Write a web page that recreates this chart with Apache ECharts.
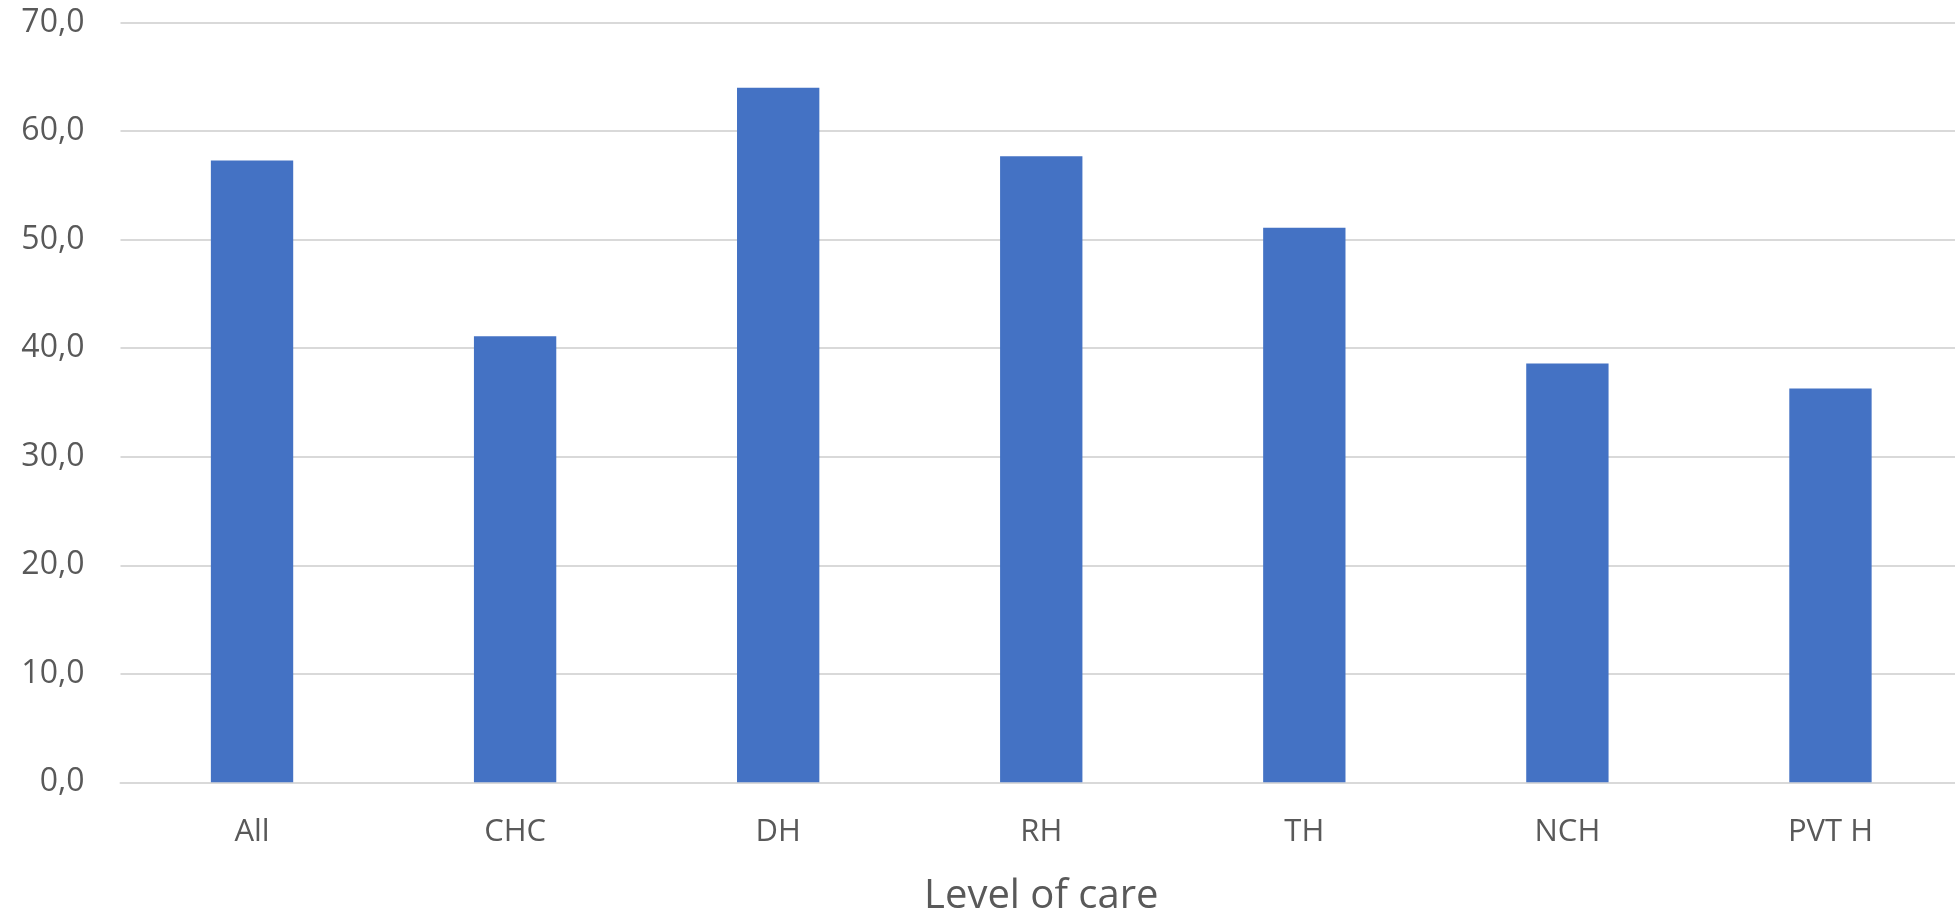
<!DOCTYPE html>
<html>
<head>
<meta charset="utf-8">
<script src="https://cdn.jsdelivr.net/npm/echarts@6/dist/echarts.min.js"></script>
<style>
  html, body { margin: 0; padding: 0; background: #ffffff; }
  #chart { width: 1955px; height: 913px; }
</style>
</head>
<body>
<div id="chart"></div>
<script>
// Level of care categories and their values
const categories = ['All', 'CHC', 'DH', 'RH', 'TH', 'NCH', 'PVT H'];
const values = [57.3, 41.1, 64.0, 57.7, 51.1, 38.6, 36.3];
const axisTitle = 'Level of care';

const textColor = '#595959';
const fontFamily = '"Open Sans", "Liberation Sans", sans-serif';

const chart = echarts.init(document.getElementById('chart'), null, { renderer: 'canvas' });
chart.setOption({
  backgroundColor: '#ffffff',
  animation: false,
  grid: {
    left: 120.5, right: -7, top: 22.7, bottom: 130.7,
    containLabel: false,
    outerBoundsMode: 'none'
  },
  xAxis: {
    type: 'category',
    data: categories,
    name: axisTitle,
    nameLocation: 'middle',
    nameGap: 94,
    nameTextStyle: { color: textColor, fontSize: 40, fontFamily: fontFamily },
    axisLine: { show: true, lineStyle: { color: '#D9D9D9', width: 2 } },
    axisTick: { show: false },
    axisLabel: { color: textColor, fontSize: 31, fontFamily: fontFamily, margin: 34 }
  },
  yAxis: {
    type: 'value',
    min: 0,
    max: 70,
    interval: 10,
    axisLine: { show: false },
    axisTick: { show: false },
    splitLine: { lineStyle: { color: '#D9D9D9', width: 2 } },
    axisLabel: {
      color: textColor,
      fontSize: 32,
      fontFamily: fontFamily,
      margin: 36,
      formatter: v => v.toFixed(1).replace('.', ',')
    }
  },
  series: [{
    type: 'bar',
    data: values,
    barWidth: '31.3%',
    itemStyle: { color: '#4472C4' }
  }]
});
</script>
</body>
</html>
